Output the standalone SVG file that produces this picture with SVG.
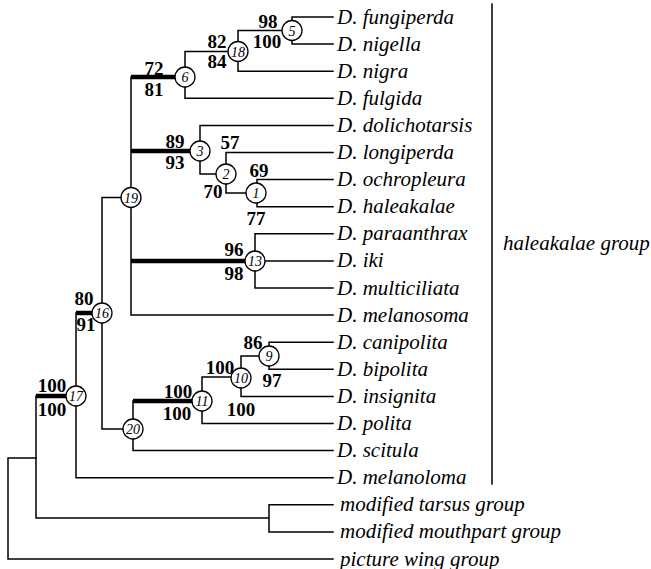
<svg xmlns="http://www.w3.org/2000/svg" width="651" height="569" viewBox="0 0 651 569">
<style>
.e{stroke:#000;stroke-width:1.5;fill:none;stroke-linecap:square}
.t{stroke:#000;stroke-width:4.5;fill:none}
.n circle{fill:#fff;stroke:#000;stroke-width:1.3}
.n text{font-family:'Liberation Serif','Times New Roman',Times,'DejaVu Serif',serif;font-style:italic;font-size:14px;text-anchor:middle}
.s{font-family:'Liberation Serif','Times New Roman',Times,'DejaVu Serif',serif;font-weight:bold;font-size:19px;text-anchor:middle}
.l{font-family:'Liberation Serif','Times New Roman',Times,'DejaVu Serif',serif;font-style:italic;font-size:21px}
</style>
<rect width="651" height="569" fill="#fff"/>
<g id="connectors">
<path class="e" d="M292 17V44M292 17H333M292 44H333"/>
<path class="e" d="M238 30.5H292M238 30.5V71.2H333"/>
<path class="e" d="M185 51.5H238M185 51.5V98.3H333"/>
<path class="t" d="M131 77H185"/>
<path class="e" d="M131 77V315.1H333"/>
<path class="t" d="M131 151H200"/>
<path class="e" d="M200 125.4H333M200 125.4V174H226"/>
<path class="e" d="M226 152.5H333M226 152.5V193H257"/>
<path class="e" d="M257 179.6H333M257 179.6V206.7H333"/>
<path class="t" d="M131 261H255"/>
<path class="e" d="M255 233.8H333M255 233.8V288H333M255 261H333"/>
<path class="e" d="M102 197.5H131M102 197.5V429H133"/>
<path class="t" d="M76 313H102"/>
<path class="e" d="M133 401V450.6H333"/>
<path class="t" d="M133 401H202"/>
<path class="e" d="M202 377V423.5H333M202 377H241"/>
<path class="e" d="M241 356V396.4H333M241 356H269"/>
<path class="e" d="M269 342.2V369.3M269 342.2H333M269 369.3H333"/>
<path class="t" d="M36 396H76"/>
<path class="e" d="M76 313V477.7H333"/>
<path class="e" d="M36 396V518H269M269 504.8V531.9M269 504.8H333M269 531.9H333"/>
<path class="e" d="M8 458H36M8 458V559H333"/>
<path class="e" d="M492 4V484"/>
</g>
<g id="node5" class="n"><circle cx="292" cy="30.5" r="10"/><text x="292" y="35.5">5</text></g>
<g id="node18" class="n"><circle cx="238" cy="51.5" r="10"/><text x="238" y="56.5">18</text></g>
<g id="node6" class="n"><circle cx="185" cy="77" r="10"/><text x="185" y="82">6</text></g>
<g id="node3" class="n"><circle cx="200" cy="151" r="10"/><text x="200" y="156">3</text></g>
<g id="node2" class="n"><circle cx="226" cy="174" r="10"/><text x="226" y="179">2</text></g>
<g id="node1" class="n"><circle cx="256" cy="193" r="10"/><text x="256" y="198">1</text></g>
<g id="node19" class="n"><circle cx="131" cy="197.5" r="10"/><text x="131" y="202.5">19</text></g>
<g id="node13" class="n"><circle cx="255" cy="261" r="10"/><text x="255" y="266">13</text></g>
<g id="node16" class="n"><circle cx="102" cy="313" r="10"/><text x="102" y="318">16</text></g>
<g id="node17" class="n"><circle cx="76" cy="396" r="10"/><text x="76" y="401">17</text></g>
<g id="node20" class="n"><circle cx="133" cy="429" r="10"/><text x="133" y="434">20</text></g>
<g id="node11" class="n"><circle cx="202" cy="401" r="10"/><text x="202" y="406">11</text></g>
<g id="node10" class="n"><circle cx="241" cy="378" r="10"/><text x="241" y="383">10</text></g>
<g id="node9" class="n"><circle cx="269" cy="356" r="10"/><text x="269" y="361">9</text></g>
<g id="support">
<text class="s" x="268" y="28">98</text>
<text class="s" x="267" y="48">100</text>
<text class="s" x="217" y="48">82</text>
<text class="s" x="217" y="68">84</text>
<text class="s" x="154" y="75">72</text>
<text class="s" x="154" y="96">81</text>
<text class="s" x="175" y="148">89</text>
<text class="s" x="175" y="169">93</text>
<text class="s" x="230" y="149">57</text>
<text class="s" x="259" y="177">69</text>
<text class="s" x="213" y="198">70</text>
<text class="s" x="256" y="225">77</text>
<text class="s" x="234" y="256">96</text>
<text class="s" x="234" y="280">98</text>
<text class="s" x="84" y="305">80</text>
<text class="s" x="86" y="331">91</text>
<text class="s" x="52" y="392">100</text>
<text class="s" x="52" y="416">100</text>
<text class="s" x="253" y="349">86</text>
<text class="s" x="272" y="387">97</text>
<text class="s" x="220" y="374">100</text>
<text class="s" x="241" y="416">100</text>
<text class="s" x="178" y="398">100</text>
<text class="s" x="177" y="420">100</text>
</g>
<g id="labels">
<text class="l" x="337" y="23.5">D. fungiperda</text>
<text class="l" x="337" y="50.6">D. nigella</text>
<text class="l" x="337" y="77.7">D. nigra</text>
<text class="l" x="337" y="104.8">D. fulgida</text>
<text class="l" x="337" y="131.9">D. dolichotarsis</text>
<text class="l" x="337" y="159">D. longiperda</text>
<text class="l" x="337" y="186.1">D. ochropleura</text>
<text class="l" x="337" y="213.2">D. haleakalae</text>
<text class="l" x="337" y="240.3">D. paraanthrax</text>
<text class="l" x="337" y="267.4">D. iki</text>
<text class="l" x="337" y="294.5">D. multiciliata</text>
<text class="l" x="337" y="321.6">D. melanosoma</text>
<text class="l" x="337" y="348.7">D. canipolita</text>
<text class="l" x="337" y="375.8">D. bipolita</text>
<text class="l" x="337" y="402.9">D. insignita</text>
<text class="l" x="337" y="430">D. polita</text>
<text class="l" x="337" y="457.1">D. scitula</text>
<text class="l" x="337" y="484.2">D. melanoloma</text>
<text class="l" x="340" y="511.3">modified tarsus group</text>
<text class="l" x="340" y="538.4">modified mouthpart group</text>
<text class="l" x="340" y="565.5">picture wing group</text>
<text class="l" x="503" y="250">haleakalae group</text>
</g>
</svg>
